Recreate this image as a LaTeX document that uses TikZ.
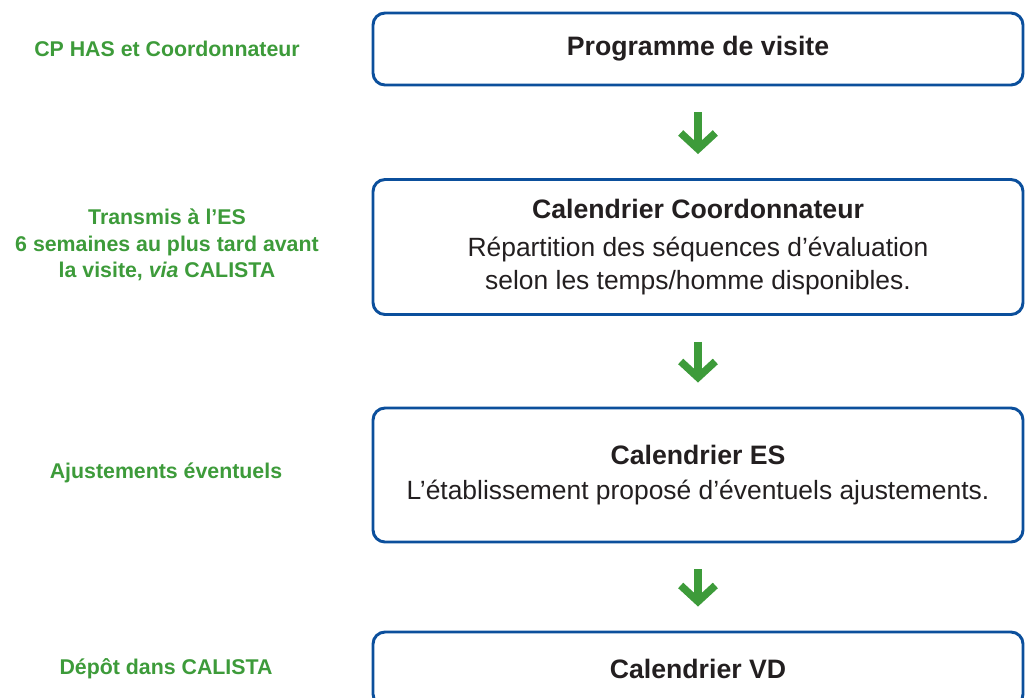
\documentclass[tikz,border=0pt]{standalone}
\usepackage{fontspec}
\setmainfont{Liberation Sans}
\usetikzlibrary{arrows.meta}
\definecolor{bleuHAS}{HTML}{0B4F9C}
\definecolor{vertHAS}{HTML}{3D9B3A}
\definecolor{texteHAS}{HTML}{231F20}
\begin{document}
\begin{tikzpicture}[x=0.75pt,y=-0.75pt,
  boite/.style={draw=bleuHAS,line width=2.2pt,rounded corners=9pt,text=texteHAS,
    align=center,inner sep=0pt,minimum width=487.5pt,font=\fontsize{19.8}{24.75}\selectfont},
  etiquette/.style={text=vertHAS,align=center,font=\bfseries\fontsize{16}{19.9}\selectfont},
  fleche/.style={draw=vertHAS,line width=5.6pt,
    -{Straight Barb[length=12pt,width=26pt]},shorten <=19.5pt,shorten >=18pt}]
  \useasboundingbox (0,0) rectangle (1025,697);
  \clip (0,0) rectangle (1025,697);

  % Cadres de la colonne de droite
  \node[boite,minimum height=54pt] (boite1) at (698,49)
    {\textbf{\fontsize{20}{24}\selectfont Programme de visite}};
  \node[boite,minimum height=101.25pt] (boite2) at (698,247)
    {\textbf{\fontsize{20}{24.75}\selectfont Calendrier Coordonnateur}\\[4pt]
     Répartition des séquences d’évaluation\\
     selon les temps/homme disponibles.};
  \node[boite,minimum height=100.5pt] (boite3) at (698,475)
    {\textbf{\fontsize{20}{24.75}\selectfont Calendrier ES}\\[1pt]
     L’établissement proposé d’éventuels ajustements.};
  \node[boite,minimum height=55.5pt] (boite4) at (698,669)
    {\textbf{\fontsize{20}{24}\selectfont Calendrier VD}};

  % Etiquettes vertes de gauche
  \node[etiquette] (etiq1) at (167,49) {CP HAS et Coordonnateur};
  \node[etiquette] (etiq2) at (167,245) {Transmis à l’ES\\6 semaines au plus tard avant\\la visite, \textit{via} CALISTA};
  \node[etiquette] (etiq3) at (166,473) {Ajustements éventuels};
  \node[etiquette] (etiq4) at (166,669) {Dépôt dans CALISTA};

  % Flèches entre les cadres
  \foreach \de/\a in {boite1/boite2, boite2/boite3, boite3/boite4}
    \draw[fleche] (\de) -- (\a);
\end{tikzpicture}
\end{document}
